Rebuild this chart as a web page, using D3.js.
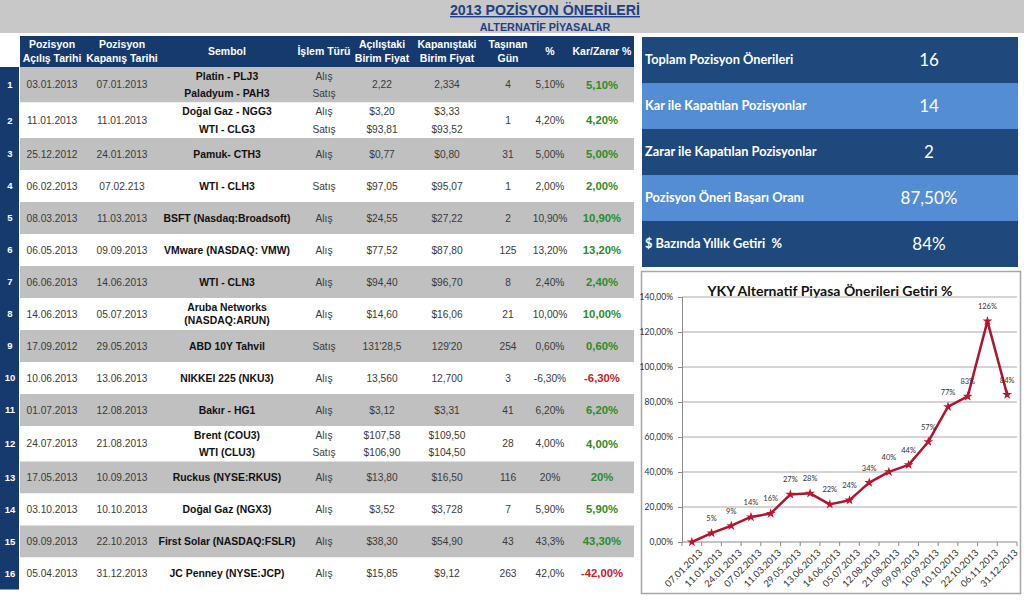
<!DOCTYPE html>
<html><head><meta charset="utf-8">
<script src="https://cdn.jsdelivr.net/npm/d3@7"></script>
<style>body{margin:0;background:#fff;} svg{display:block;}</style>
</head><body><svg id="c" width="1024" height="601"></svg>
<script>
// ---------- DATA ----------
const acilisTarihi = ["03.01.2013","11.01.2013","25.12.2012","06.02.2013","08.03.2013","06.05.2013","06.06.2013","14.06.2013","17.09.2012","10.06.2013","01.07.2013","24.07.2013","17.05.2013","03.10.2013","09.09.2013","05.04.2013"];
const kapanisTarihi = ["07.01.2013","11.01.2013","24.01.2013","07.02.213","11.03.2013","09.09.2013","14.06.2013","05.07.2013","29.05.2013","13.06.2013","12.08.2013","21.08.2013","10.09.2013","10.10.2013","22.10.2013","31.12.2013"];
const sembol = [["Platin - PLJ3","Paladyum - PAH3"],["Doğal Gaz - NGG3","WTI - CLG3"],["Pamuk- CTH3"],["WTI - CLH3"],["BSFT (Nasdaq:Broadsoft)"],["VMware (NASDAQ: VMW)"],["WTI - CLN3"],["Aruba Networks","(NASDAQ:ARUN)"],["ABD 10Y Tahvil"],["NIKKEI 225 (NKU3)"],["Bakır - HG1"],["Brent (COU3)","WTI (CLU3)"],["Ruckus (NYSE:RKUS)"],["Doğal Gaz (NGX3)"],["First Solar (NASDAQ:FSLR)"],["JC Penney (NYSE:JCP)"]];
const islemTuru = [["Alış","Satış"],["Alış","Satış"],["Alış"],["Satış"],["Alış"],["Alış"],["Alış"],["Alış"],["Satış"],["Alış"],["Alış"],["Alış","Satış"],["Alış"],["Alış"],["Alış"],["Alış"]];
const acilisFiyat = [["2,22"],["$3,20","$93,81"],["$0,77"],["$97,05"],["$24,55"],["$77,52"],["$94,40"],["$14,60"],["131'28,5"],["13,560"],["$3,12"],["$107,58","$106,90"],["$13,80"],["$3,52"],["$38,30"],["$15,85"]];
const kapanisFiyat = [["2,334"],["$3,33","$93,52"],["$0,80"],["$95,07"],["$27,22"],["$87,80"],["$96,70"],["$16,06"],["129'20"],["12,700"],["$3,31"],["$109,50","$104,50"],["$16,50"],["$3,728"],["$54,90"],["$9,12"]];
const tasinanGun = ["4","1","31","1","2","125","8","21","254","3","41","28","116","7","43","263"];
const yuzde = ["5,10%","4,20%","5,00%","2,00%","10,90%","13,20%","2,40%","10,00%","0,60%","-6,30%","6,20%","4,00%","20%","5,90%","43,3%","42,0%"];
const karZarar = ["5,10%","4,20%","5,00%","2,00%","10,90%","13,20%","2,40%","10,00%","0,60%","-6,30%","6,20%","4,00%","20%","5,90%","43,30%","-42,00%"];
const basliklar = [["Pozisyon","Açılış Tarihi"],["Pozisyon","Kapanış Tarihi"],["Sembol"],["İşlem Türü"],["Açılıştaki","Birim Fiyat"],["Kapanıştaki","Birim Fiyat"],["Taşınan","Gün"],["%"],["Kar/Zarar %"]];

const ozetEtiket = ["Toplam Pozisyon Önerileri","Kar ile Kapatılan Pozisyonlar","Zarar ile Kapatılan Pozisyonlar","Pozisyon Öneri Başarı Oranı","$ Bazında Yıllık Getiri  %"];
const ozetDeger = ["16","14","2","87,50%","84%"];

const getiriTarih = ["07.01.2013","11.01.2013","24.01.2013","07.02.2013","11.03.2013","29.05.2013","13.06.2013","14.06.2013","05.07.2013","12.08.2013","21.08.2013","09.09.2013","10.09.2013","10.10.2013","22.10.2013","06.11.2013","31.12.2013"];
const getiriDeger = [0,5.1,9.3,14.3,16.3,27.2,27.8,21.5,23.9,33.9,40.1,44.1,57.3,77.3,83.2,126.2,84.2];
const yTicks = [0,20,40,60,80,100,120,140];

// ---------- DRAW ----------
const svg = d3.select("#c");
const AR = "'Liberation Sans', Arial, sans-serif";
const CAL = "Lato, 'Open Sans', sans-serif";
const NAVY = "#163a6e";

// top band
svg.append("rect").attr("x",0).attr("y",0).attr("width",1024).attr("height",33).attr("fill","#c8c8c8");
svg.append("text").attr("x",545).attr("y",15).attr("text-anchor","middle")
  .attr("font-family",AR).attr("font-weight","bold").attr("font-size",14.2)
  .attr("fill","#1f3f86").attr("text-decoration","underline").text("2013 POZİSYON ÖNERİLERİ");
svg.append("text").attr("x",545).attr("y",31).attr("text-anchor","middle")
  .attr("font-family",AR).attr("font-weight","bold").attr("font-size",10.8)
  .attr("fill","#1f3f86").text("ALTERNATİF PİYASALAR");

// ---------- TABLE ----------
const colKeys = ["acilis","kapanis","sembol","islem","af","kf","gun","yuzde","kz"];
const colX = d3.scaleOrdinal().domain(colKeys).range([52,122,227,324,382,447,508,550,602]);
const tableLeft = 20, tableRight = 634, headTop = 36, headBottom = 67;

svg.append("rect").attr("x",tableLeft).attr("y",headTop).attr("width",tableRight-tableLeft).attr("height",headBottom-headTop).attr("fill",NAVY);
colKeys.forEach((k,i)=>{
  const lines = basliklar[i];
  const cy = (headTop+headBottom)/2;
  lines.forEach((t,j)=>{
    svg.append("text").attr("x",colX(k)).attr("y",cy + (j-(lines.length-1)/2)*14).attr("dy","0.35em")
      .attr("text-anchor","middle").attr("font-family",AR).attr("font-weight","bold").attr("font-size",10.5)
      .attr("fill","#fff").text(t);
  });
});

const n = acilisTarihi.length;
const heights = islemTuru.map(d => d.length > 1 ? 35.5 : 32);
const tops = [headBottom, ...d3.cumsum(heights).map(v=>v+headBottom)];
const tableBottom = tops[n];
svg.append("rect").attr("x",0).attr("y",headBottom).attr("width",19).attr("height",tableBottom-headBottom).attr("fill",NAVY);

const rows = svg.append("g").selectAll("g").data(d3.range(n)).join("g")
  .attr("transform",i=>`translate(0,${tops[i]})`);
rows.append("rect").attr("x",tableLeft).attr("y",0).attr("width",tableRight-tableLeft)
  .attr("height",i=>heights[i]).attr("fill",i=> i%2===0 ? "#c0c0c0" : "#ffffff");
rows.append("text").attr("x",10).attr("y",i=>heights[i]/2).attr("dy","0.35em").attr("text-anchor","middle")
  .attr("font-family",AR).attr("font-weight","bold").attr("font-size",9.5).attr("fill","#fff").text(i=>i+1);

function cell(key, getLines, opts){
  rows.each(function(i){
    const lines = getLines(i);
    const sp = islemTuru[i].length>1 ? 17.5 : 13.5;
    const g = d3.select(this);
    lines.forEach((t,j)=>{
      g.append("text").attr("x",colX(key)).attr("y",heights[i]/2 + (j-(lines.length-1)/2)*sp).attr("dy","0.35em")
        .attr("text-anchor","middle").attr("font-family",AR)
        .attr("font-weight",opts.bold?"bold":"normal").attr("font-size",opts.size)
        .attr("fill", typeof opts.fill === "function" ? opts.fill(i) : opts.fill).text(t);
    });
  });
}
const body = "#3a3a3a";
cell("acilis", i=>[acilisTarihi[i]], {size:10.2, fill:body});
cell("kapanis", i=>[kapanisTarihi[i]], {size:10.2, fill:body});
cell("sembol", i=>sembol[i], {size:10.4, bold:true, fill:"#111"});
cell("islem", i=>islemTuru[i], {size:10.2, fill:body});
cell("af", i=>acilisFiyat[i], {size:10.2, fill:body});
cell("kf", i=>kapanisFiyat[i], {size:10.2, fill:body});
cell("gun", i=>[tasinanGun[i]], {size:10.2, fill:body});
cell("yuzde", i=>[yuzde[i]], {size:10.2, fill:body});
cell("kz", i=>[karZarar[i]], {size:11.3, bold:true, fill:i=> karZarar[i].startsWith("-") ? "#cc2027" : "#2f8a2a"});

// ---------- SUMMARY PANEL ----------
const panelX = 642, panelW = 376;
const py = d3.scaleBand().domain(d3.range(ozetEtiket.length)).range([37,267]);
const pg = svg.append("g").selectAll("g").data(d3.range(ozetEtiket.length)).join("g")
  .attr("transform",i=>`translate(0,${py(i)})`);
pg.append("rect").attr("x",panelX).attr("width",panelW).attr("height",py.bandwidth())
  .attr("fill",i=> i%2===0 ? "#1f497d" : "#548dd4");
pg.append("text").attr("x",645).attr("y",py.bandwidth()/2).attr("dy","0.35em")
  .attr("font-family",CAL).attr("font-weight","bold").attr("font-size",12.8).attr("fill","#fff")
  .style("white-space","pre")
  .text(i=>ozetEtiket[i]);
pg.append("text").attr("x",929).attr("y",py.bandwidth()/2).attr("dy","0.35em").attr("text-anchor","middle")
  .attr("font-family",CAL).attr("font-size",17).attr("fill","#fff")
  .text(i=>ozetDeger[i]);

// ---------- LINE CHART ----------
svg.append("rect").attr("x",641.5).attr("y",271.5).attr("width",379).attr("height",322)
  .attr("fill","#fff").attr("stroke","#a6a6a6").attr("stroke-width",1.5);
svg.append("text").attr("x",830).attr("y",291).attr("dy","0.35em").attr("text-anchor","middle")
  .attr("font-family",CAL).attr("font-weight","bold").attr("font-size",14).attr("fill","#111")
  .text("YKY Alternatif Piyasa Önerileri Getiri %");

const x = d3.scaleBand().domain(getiriTarih).range([682,1017]);
const y = d3.scaleLinear().domain([0,140]).range([542,297]);
const fmt = v => d3.format(".2f")(v).replace(".",",") + "%";

const grid = svg.append("g");
grid.selectAll("line").data(yTicks.filter(v=>v>0)).join("line")
  .attr("x1",682).attr("x2",1017).attr("y1",d=>y(d)).attr("y2",d=>y(d))
  .attr("stroke","#a8a8a8").attr("stroke-width",1);

const yAxis = svg.append("g").attr("transform","translate(682,0)")
  .call(d3.axisLeft(y).tickValues(yTicks).tickFormat(fmt).tickSize(4).tickPadding(5));
yAxis.select(".domain").attr("stroke","#8a8a8a");
yAxis.selectAll(".tick line").attr("stroke","#8a8a8a");
yAxis.selectAll("text").attr("font-family",CAL).attr("font-size",8.5).attr("fill","#333");

const xAxis = svg.append("g").attr("transform","translate(0,542)");
xAxis.append("line").attr("x1",682).attr("x2",1017).attr("stroke","#8a8a8a");
xAxis.selectAll("line.t").data(getiriTarih.concat(["_end"])).join("line").attr("class","t")
  .attr("x1",(d,i)=> 682 + i*x.step()).attr("x2",(d,i)=> 682 + i*x.step())
  .attr("y1",0).attr("y2",4).attr("stroke","#8a8a8a");
xAxis.selectAll("text").data(getiriTarih).join("text")
  .attr("transform",d=>`translate(${x(d)+x.bandwidth()/2+9},${9}) rotate(-45)`)
  .attr("text-anchor","end").attr("dy","0.35em")
  .attr("font-family",CAL).attr("font-size",9.5).attr("fill","#333").text(d=>d);

const pts = getiriTarih.map((d,i)=>[x(d)+x.bandwidth()/2, y(getiriDeger[i])]);
svg.append("path").attr("d",d3.line()(pts)).attr("fill","none").attr("stroke","#ad1530").attr("stroke-width",2.5)
  .attr("stroke-linejoin","round");
svg.append("g").selectAll("path").data(pts).join("path")
  .attr("transform",d=>`translate(${d[0]},${d[1]})`)
  .attr("d",d3.symbol().type(d3.symbolStar).size(30)).attr("fill","#c0142c");
svg.append("g").selectAll("text").data(getiriDeger.slice(1)).join("text")
  .attr("x",(d,i)=>pts[i+1][0]).attr("y",(d,i)=>pts[i+1][1]-12)
  .attr("text-anchor","middle").attr("font-family",CAL).attr("font-size",7.5).attr("fill","#333")
  .text(d=>Math.round(d)+"%");
</script></body></html>
